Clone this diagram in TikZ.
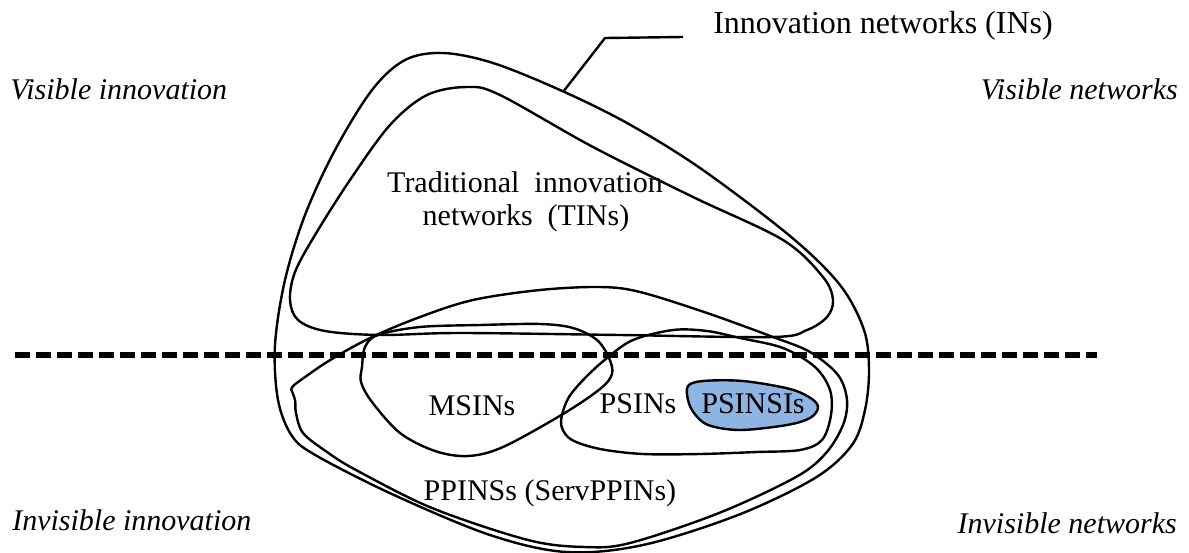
\documentclass[tikz,border=0pt]{standalone}
\usepackage{fontspec}
\setmainfont{Liberation Serif}
\begin{document}
\begin{tikzpicture}[x=0.75pt,y=-0.75pt,
  outline/.style={line width=1.8pt, line join=round},
  lbl/.style={font=\fontsize{22.5}{26}\selectfont, inner sep=0pt},
  ital/.style={font=\fontsize{22.5}{26}\selectfont\itshape, inner sep=0pt},
  divider/.style={line width=3.9pt, dash pattern=on 11.25pt off 4.5pt}]
\useasboundingbox (0,0) rectangle (1189,553);
% outer INs
\draw[outline] plot[smooth cycle, tension=0.55] coordinates {
 (443,53) (493,63) (560,90) (627,123) (700,168) (790,236) (840,285) (864,330)
 (869,370) (865,410) (852,445) (815,478) (738,515) (643,545) (566,552)
 (490,535) (394,495) (317,456) (292,436) (278,400) (275,345)
 (285,280) (305,215) (335,150) (372,90) (405,60)};
% TINs
\draw[outline] plot[smooth cycle, tension=0.55] coordinates {
 (467,87) (500,95) (593,147) (693,197) (783,240) (823,277) (833,300)
 (827,317) (807,330) (773,337) (620,335) (460,333) (380,335) (325,331)
 (298,320) (290,300) (295,272) (315,235) (350,180) (390,125) (427,95)};
% PPINSs
\draw[outline] plot[smooth, tension=0.55] coordinates {
 (291,389) (295,400) (296,413) (303,433) (327,452) (356,470) (432,508)
 (528,540) (585,547) (630,543) (719,513) (796,477) (826,453) (843,425)
 (847,400) (838,375) (810,352) (773,337) (707,313) (640,292) (600,287)
 (540,290) (473,300) (420,317) (370,338) (327,362) (294,385)} -- (291,389);
% MSINs
\draw[outline] plot[smooth cycle, tension=0.55] coordinates {
 (362,367) (365,347) (378,335) (420,327) (480,325) (540,324) (573,328)
 (597,340) (609,358) (612,374) (600,389) (563,414) (503,447) (468,456)
 (435,451) (400,433) (372,402) (361,382)};
% PSINs
\draw[outline] plot[smooth cycle, tension=0.55] coordinates {
 (562,415) (569,397) (585,378) (607,358) (633,340) (673,330) (707,331)
 (740,338) (783,348) (815,367) (830,390) (831,415) (822,440) (800,450)
 (757,452) (700,454) (643,454) (600,449) (572,440) (562,428)};
% PSINSIs
\draw[outline, fill={rgb,255:red,142;green,180;blue,227}] plot[smooth cycle, tension=0.55] coordinates {
 (688,386) (703,381) (743,381) (790,389) (812,399) (818,408) (810,418)
 (787,425) (740,430) (708,425) (694,413) (688,400)};
% dashed divider
\coordinate (dl) at (15,355);
\coordinate (dr) at (1097,355);
\draw[divider] (dl) -- (dr);
% labels
\node[lbl, anchor=base west, font=\fontsize{24}{28}\selectfont] (ins) at (713,33) {Innovation networks (INs)};
\coordinate (callA) at (563,92);
\coordinate (callK) at (605,38);
\coordinate (callB) at (683,37);
\draw[line width=1.8pt, line join=round] (callA) -- (callK) -- (callB);
\node[lbl, anchor=base] (tin1) at (525,192) {Traditional\ \ innovation};
\node[lbl, anchor=base] (tin2) at (526,225) {networks\ \ (TINs)};
\node[lbl, anchor=base] (msin) at (472,415) {MSINs};
\node[lbl, anchor=base] (psin) at (638,413) {PSINs};
\node[lbl, anchor=base] (psinsi) at (753,413) {PSINSIs};
\node[lbl, anchor=base] (ppin) at (550,500) {PPINSs (ServPPINs)};
\node[ital, anchor=base west] (vi) at (10,99) {Visible innovation};
\node[ital, anchor=base east] (vn) at (1178,99) {Visible networks};
\node[ital, anchor=base west] (ii) at (12,530) {Invisible innovation};
\node[ital, anchor=base east] (inw) at (1177,533) {Invisible networks};
\end{tikzpicture}
\end{document}
